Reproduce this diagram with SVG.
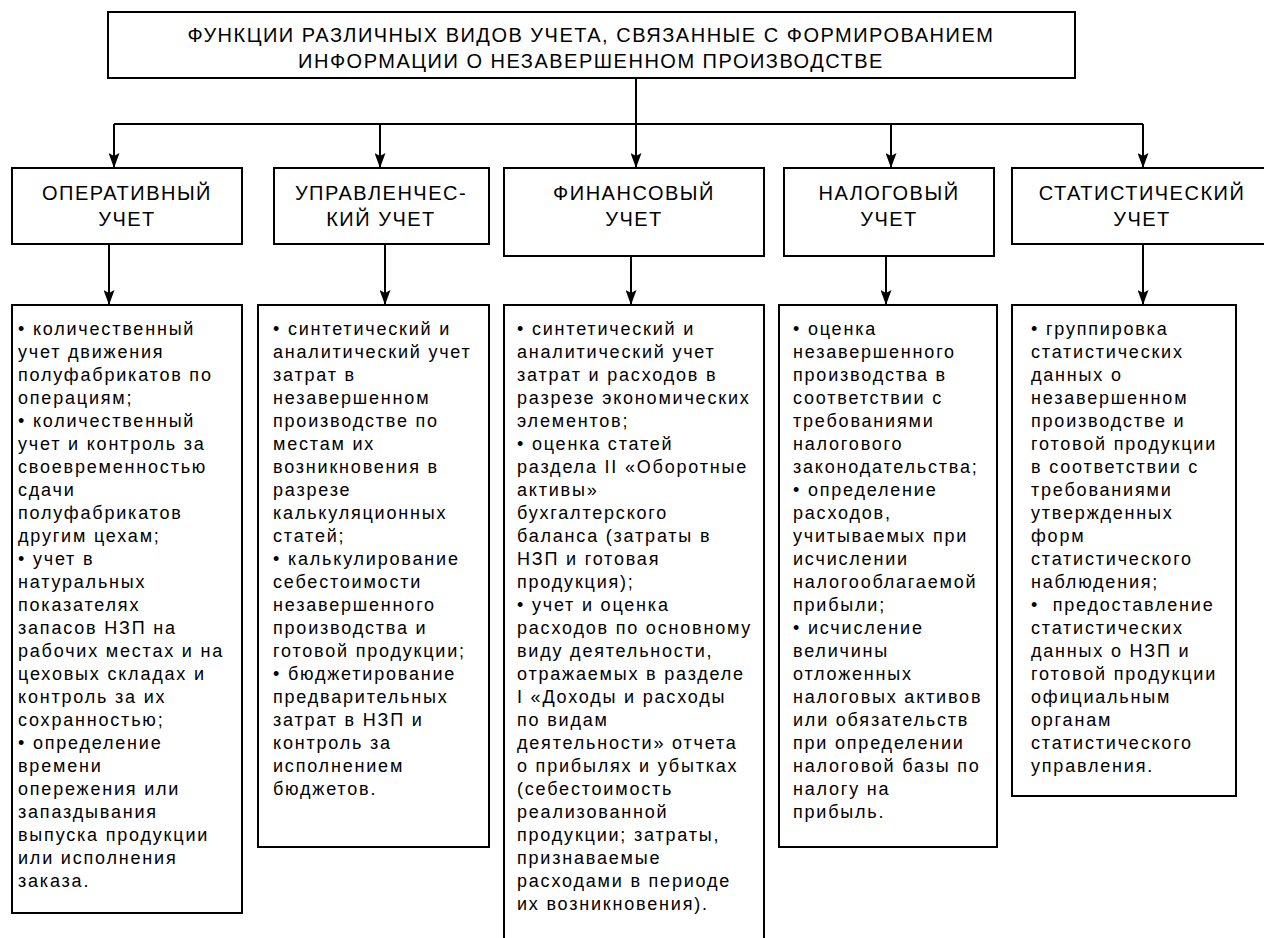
<svg xmlns="http://www.w3.org/2000/svg" width="1264" height="938" viewBox="0 0 1264 938">
<style>
.box{fill:#fff;stroke:#000;stroke-width:2}
.ln{stroke:#000;stroke-width:2;fill:none}
.arr{marker-end:url(#ah)}
.t{font-family:"Liberation Sans",Arial,sans-serif;font-size:20px;letter-spacing:1.5px;fill:#000;text-anchor:middle}
.b{font-family:"Liberation Sans",Arial,sans-serif;font-size:18px;letter-spacing:1.8px;fill:#000;white-space:pre}
</style>
<defs>
<marker id="ah" markerUnits="userSpaceOnUse" markerWidth="15" markerHeight="11" viewBox="0 0 15 11" refX="15" refY="5.5" orient="auto">
<path d="M0,0 L15,5.5 L0,11 L3,5.5 z" fill="#000"/>
</marker>
</defs>
<rect width="1264" height="938" fill="#fff"/>

<g id="connectors">
<line class="ln" x1="636" y1="78" x2="636" y2="124"/>
<line class="ln" x1="114" y1="124" x2="1143" y2="124"/>
<line class="ln arr" x1="114" y1="124" x2="114" y2="168"/>
<line class="ln arr" x1="380" y1="124" x2="380" y2="168"/>
<line class="ln arr" x1="636" y1="124" x2="636" y2="168"/>
<line class="ln arr" x1="891" y1="124" x2="891" y2="168"/>
<line class="ln arr" x1="1143" y1="124" x2="1143" y2="168"/>
<line class="ln arr" x1="109" y1="244" x2="109" y2="305"/>
<line class="ln arr" x1="385" y1="244" x2="385" y2="305"/>
<line class="ln arr" x1="631" y1="256" x2="631" y2="305"/>
<line class="ln arr" x1="886" y1="256" x2="886" y2="305"/>
<line class="ln arr" x1="1143" y1="244" x2="1143" y2="305"/>
</g>

<g id="title">
<rect class="box" x="108" y="12" width="967" height="66"/>
<text class="t" x="591" y="42">ФУНКЦИИ РАЗЛИЧНЫХ ВИДОВ УЧЕТА, СВЯЗАННЫЕ С ФОРМИРОВАНИЕМ</text>
<text class="t" x="591" y="68">ИНФОРМАЦИИ О НЕЗАВЕРШЕННОМ ПРОИЗВОДСТВЕ</text>
</g>

<g id="h1">
<rect class="box" x="12" y="168" width="230" height="76"/>
<text class="t" x="127" y="200">ОПЕРАТИВНЫЙ</text>
<text class="t" x="127" y="226">УЧЕТ</text>
</g>
<g id="h2">
<rect class="box" x="274" y="168" width="215" height="76"/>
<text class="t" x="381" y="200">УПРАВЛЕНЧЕС-</text>
<text class="t" x="381" y="226">КИЙ УЧЕТ</text>
</g>
<g id="h3">
<rect class="box" x="504" y="168" width="260" height="88"/>
<text class="t" x="634" y="200">ФИНАНСОВЫЙ</text>
<text class="t" x="634" y="226">УЧЕТ</text>
</g>
<g id="h4">
<rect class="box" x="784" y="168" width="210" height="88"/>
<text class="t" x="889" y="200">НАЛОГОВЫЙ</text>
<text class="t" x="889" y="226">УЧЕТ</text>
</g>
<g id="h5">
<rect class="box" x="1012" y="168" width="262" height="76"/>
<text class="t" x="1142" y="200">СТАТИСТИЧЕСКИЙ</text>
<text class="t" x="1142" y="226">УЧЕТ</text>
</g>

<g id="d1">
<rect class="box" x="12" y="305" width="230" height="608"/>
<text class="b" x="18" y="335">• количественный</text>
<text class="b" x="18" y="358">учет движения</text>
<text class="b" x="18" y="381">полуфабрикатов по</text>
<text class="b" x="18" y="404">операциям;</text>
<text class="b" x="18" y="427">• количественный</text>
<text class="b" x="18" y="450">учет и контроль за</text>
<text class="b" x="18" y="473">своевременностью</text>
<text class="b" x="18" y="496">сдачи</text>
<text class="b" x="18" y="519">полуфабрикатов</text>
<text class="b" x="18" y="542">другим цехам;</text>
<text class="b" x="18" y="565">• учет в</text>
<text class="b" x="18" y="588">натуральных</text>
<text class="b" x="18" y="611">показателях</text>
<text class="b" x="18" y="634">запасов НЗП на</text>
<text class="b" x="18" y="657">рабочих местах и на</text>
<text class="b" x="18" y="680">цеховых складах и</text>
<text class="b" x="18" y="703">контроль за их</text>
<text class="b" x="18" y="726">сохранностью;</text>
<text class="b" x="18" y="749">• определение</text>
<text class="b" x="18" y="772">времени</text>
<text class="b" x="18" y="795">опережения или</text>
<text class="b" x="18" y="818">запаздывания</text>
<text class="b" x="18" y="841">выпуска продукции</text>
<text class="b" x="18" y="864">или исполнения</text>
<text class="b" x="18" y="887">заказа.</text>
</g>

<g id="d2">
<rect class="box" x="258" y="305" width="231" height="542"/>
<text class="b" x="273" y="335">• синтетический и</text>
<text class="b" x="273" y="358">аналитический учет</text>
<text class="b" x="273" y="381">затрат в</text>
<text class="b" x="273" y="404">незавершенном</text>
<text class="b" x="273" y="427">производстве по</text>
<text class="b" x="273" y="450">местам их</text>
<text class="b" x="273" y="473">возникновения в</text>
<text class="b" x="273" y="496">разрезе</text>
<text class="b" x="273" y="519">калькуляционных</text>
<text class="b" x="273" y="542">статей;</text>
<text class="b" x="273" y="565">• калькулирование</text>
<text class="b" x="273" y="588">себестоимости</text>
<text class="b" x="273" y="611">незавершенного</text>
<text class="b" x="273" y="634">производства и</text>
<text class="b" x="273" y="657">готовой продукции;</text>
<text class="b" x="273" y="680">• бюджетирование</text>
<text class="b" x="273" y="703">предварительных</text>
<text class="b" x="273" y="726">затрат в НЗП и</text>
<text class="b" x="273" y="749">контроль за</text>
<text class="b" x="273" y="772">исполнением</text>
<text class="b" x="273" y="795">бюджетов.</text>
</g>

<g id="d3">
<rect class="box" x="504" y="305" width="260" height="650"/>
<text class="b" x="517" y="335">• синтетический и</text>
<text class="b" x="517" y="358">аналитический учет</text>
<text class="b" x="517" y="381">затрат и расходов в</text>
<text class="b" x="517" y="404">разрезе экономических</text>
<text class="b" x="517" y="427">элементов;</text>
<text class="b" x="517" y="450">• оценка статей</text>
<text class="b" x="517" y="473">раздела II «Оборотные</text>
<text class="b" x="517" y="496">активы»</text>
<text class="b" x="517" y="519">бухгалтерского</text>
<text class="b" x="517" y="542">баланса (затраты в</text>
<text class="b" x="517" y="565">НЗП и готовая</text>
<text class="b" x="517" y="588">продукция);</text>
<text class="b" x="517" y="611">• учет и оценка</text>
<text class="b" x="517" y="634">расходов по основному</text>
<text class="b" x="517" y="657">виду деятельности,</text>
<text class="b" x="517" y="680">отражаемых в разделе</text>
<text class="b" x="517" y="703">I «Доходы и расходы</text>
<text class="b" x="517" y="726">по видам</text>
<text class="b" x="517" y="749">деятельности» отчета</text>
<text class="b" x="517" y="772">о прибылях и убытках</text>
<text class="b" x="517" y="795">(себестоимость</text>
<text class="b" x="517" y="818">реализованной</text>
<text class="b" x="517" y="841">продукции; затраты,</text>
<text class="b" x="517" y="864">признаваемые</text>
<text class="b" x="517" y="887">расходами в периоде</text>
<text class="b" x="517" y="910">их возникновения).</text>
</g>

<g id="d4">
<rect class="box" x="779" y="305" width="218" height="542"/>
<text class="b" x="793" y="335">• оценка</text>
<text class="b" x="793" y="358">незавершенного</text>
<text class="b" x="793" y="381">производства в</text>
<text class="b" x="793" y="404">соответствии с</text>
<text class="b" x="793" y="427">требованиями</text>
<text class="b" x="793" y="450">налогового</text>
<text class="b" x="793" y="473">законодательства;</text>
<text class="b" x="793" y="496">• определение</text>
<text class="b" x="793" y="519">расходов,</text>
<text class="b" x="793" y="542">учитываемых при</text>
<text class="b" x="793" y="565">исчислении</text>
<text class="b" x="793" y="588">налогооблагаемой</text>
<text class="b" x="793" y="611">прибыли;</text>
<text class="b" x="793" y="634">• исчисление</text>
<text class="b" x="793" y="657">величины</text>
<text class="b" x="793" y="680">отложенных</text>
<text class="b" x="793" y="703">налоговых активов</text>
<text class="b" x="793" y="726">или обязательств</text>
<text class="b" x="793" y="749">при определении</text>
<text class="b" x="793" y="772">налоговой базы по</text>
<text class="b" x="793" y="795">налогу на</text>
<text class="b" x="793" y="818">прибыль.</text>
</g>

<g id="d5">
<rect class="box" x="1012" y="305" width="224" height="491"/>
<text class="b" x="1031" y="335">• группировка</text>
<text class="b" x="1031" y="358">статистических</text>
<text class="b" x="1031" y="381">данных о</text>
<text class="b" x="1031" y="404">незавершенном</text>
<text class="b" x="1031" y="427">производстве и</text>
<text class="b" x="1031" y="450">готовой продукции</text>
<text class="b" x="1031" y="473">в соответствии с</text>
<text class="b" x="1031" y="496">требованиями</text>
<text class="b" x="1031" y="519">утвержденных</text>
<text class="b" x="1031" y="542">форм</text>
<text class="b" x="1031" y="565">статистического</text>
<text class="b" x="1031" y="588">наблюдения;</text>
<text class="b" x="1031" y="611">•  предоставление</text>
<text class="b" x="1031" y="634">статистических</text>
<text class="b" x="1031" y="657">данных о НЗП и</text>
<text class="b" x="1031" y="680">готовой продукции</text>
<text class="b" x="1031" y="703">официальным</text>
<text class="b" x="1031" y="726">органам</text>
<text class="b" x="1031" y="749">статистического</text>
<text class="b" x="1031" y="772">управления.</text>
</g>
</svg>
